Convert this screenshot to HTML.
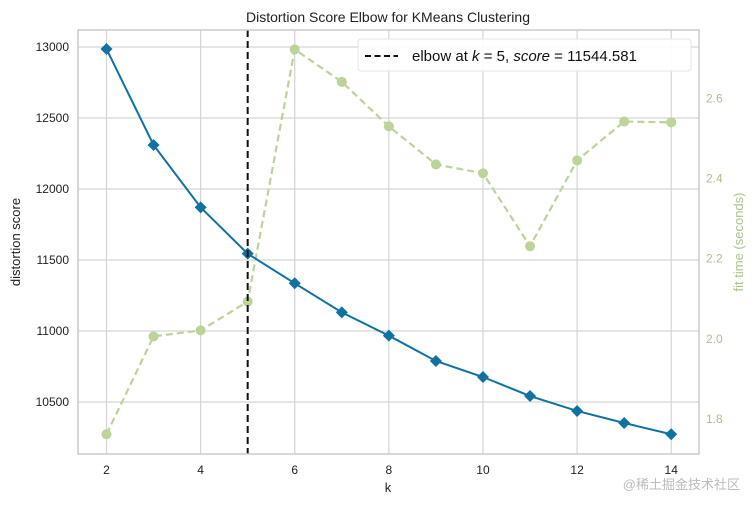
<!DOCTYPE html>
<html><head><meta charset="utf-8"><style>
body{margin:0;background:#fff;}
svg text{font-family:"Liberation Sans","Noto Sans CJK SC",sans-serif;}
</style></head><body>
<svg id="chart" width="756" height="507" xmlns="http://www.w3.org/2000/svg">
<rect x="0" y="0" width="756" height="507" fill="#fff"/>
<text x="388" y="22" text-anchor="middle" font-size="14" fill="#222">Distortion Score Elbow for KMeans Clustering</text>
<g id="grid"></g>
<g id="marks"></g>
<rect x="78" y="30" width="621" height="424" fill="none" stroke="#ccc" stroke-width="1.5"/>
<text x="388" y="492" text-anchor="middle" font-size="13" fill="#222">k</text>
<text transform="translate(20,242) rotate(-90)" text-anchor="middle" font-size="13" fill="#222">distortion score</text>
<text transform="translate(743,242) rotate(-90)" text-anchor="middle" font-size="13" fill="#a9c48a">fit time (seconds)</text>
<g>
<rect x="358" y="39" width="333" height="32" rx="3" fill="#fff" fill-opacity="0.9" stroke="#e4e4e4"/>
<line x1="365" y1="56" x2="398" y2="56" stroke="#111" stroke-width="2" stroke-dasharray="6,3.5"/>
<text x="412" y="61" font-size="15" fill="#111">elbow at <tspan font-style="italic">k</tspan> = 5, <tspan font-style="italic">score</tspan> = 11544.581</text>
</g>
<text x="740" y="489" text-anchor="end" font-size="13" fill="#bbb">@稀土掘金技术社区</text>
</svg>
<script>
const ks=[2,3,4,5,6,7,8,9,10,11,12,13,14];
const distortion=[12986,12310,11871,11544.581,11336,11131,10967,10789,10676,10542,10437,10352,10273];
const fitTime=[1.762,2.006,2.021,2.093,2.722,2.641,2.530,2.435,2.413,2.231,2.445,2.542,2.540];
const xTicks=[2,4,6,8,10,12,14];
const yTicks=[10500,11000,11500,12000,12500,13000];
const y2Ticks=[1.8,2.0,2.2,2.4,2.6];
const elbowK=5;
const NS="http://www.w3.org/2000/svg";
const X=k=>106.5+(k-2)*47.06;
const Y=v=>47+(13000-v)*0.142;
const Y2=v=>419-(v-1.8)*400.9;
const grid=document.getElementById('grid'),marks=document.getElementById('marks');
function mk(tag,attrs,parent){const e=document.createElementNS(NS,tag);for(const k in attrs)e.setAttribute(k,attrs[k]);parent.appendChild(e);return e;}
xTicks.forEach(t=>{
 const l=mk('line',{x1:X(t),x2:X(t),y1:30,y2:454,stroke:'#d5d5d5','stroke-width':1.2},grid);
 
 
 const tx=mk('text',{x:X(t),y:474,'text-anchor':'middle','font-size':12,fill:'#222'},grid);tx.textContent=t;
 
 
});
yTicks.forEach(t=>{
 const l=mk('line',{x1:78,x2:699,y1:Y(t),y2:Y(t),stroke:'#d5d5d5','stroke-width':1.2},grid);
 
 
 const tx=mk('text',{x:69,y:Y(t)+4,'text-anchor':'end','font-size':12,fill:'#222'},grid);tx.textContent=t;
 
 
});
y2Ticks.forEach(t=>{
 const tx=mk('text',{x:706,y:Y2(t)+4,'font-size':12,fill:'#a9c48a'},grid);tx.textContent=t.toFixed(1);
 
 
});
// fit time line
const fl=mk('polyline',{points:ks.map((k,i)=>X(k)+','+Y2(fitTime[i])).join(' '),fill:'none',stroke:'#bcd39a','stroke-width':2.2,'stroke-dasharray':'7,4'},marks);


ks.forEach((k,i)=>{
 const c=mk('circle',{cx:X(k),cy:Y2(fitTime[i]),r:5,fill:'#bcd39a'},marks);
 
 
});
// distortion line
const dl=mk('polyline',{points:ks.map((k,i)=>X(k)+','+Y(distortion[i])).join(' '),fill:'none',stroke:'#0f72a0','stroke-width':2},marks);


ks.forEach((k,i)=>{
 const x=X(k),y=Y(distortion[i]),s=6;
 const p=mk('polygon',{points:`${x},${y-s} ${x+s},${y} ${x},${y+s} ${x-s},${y}`,fill:'#0f72a0'},marks);
 
 
});
const el=mk('line',{x1:X(elbowK),x2:X(elbowK),y1:30,y2:454,stroke:'#111','stroke-width':2,'stroke-dasharray':'7,4'},marks);


</script>
</body></html>
